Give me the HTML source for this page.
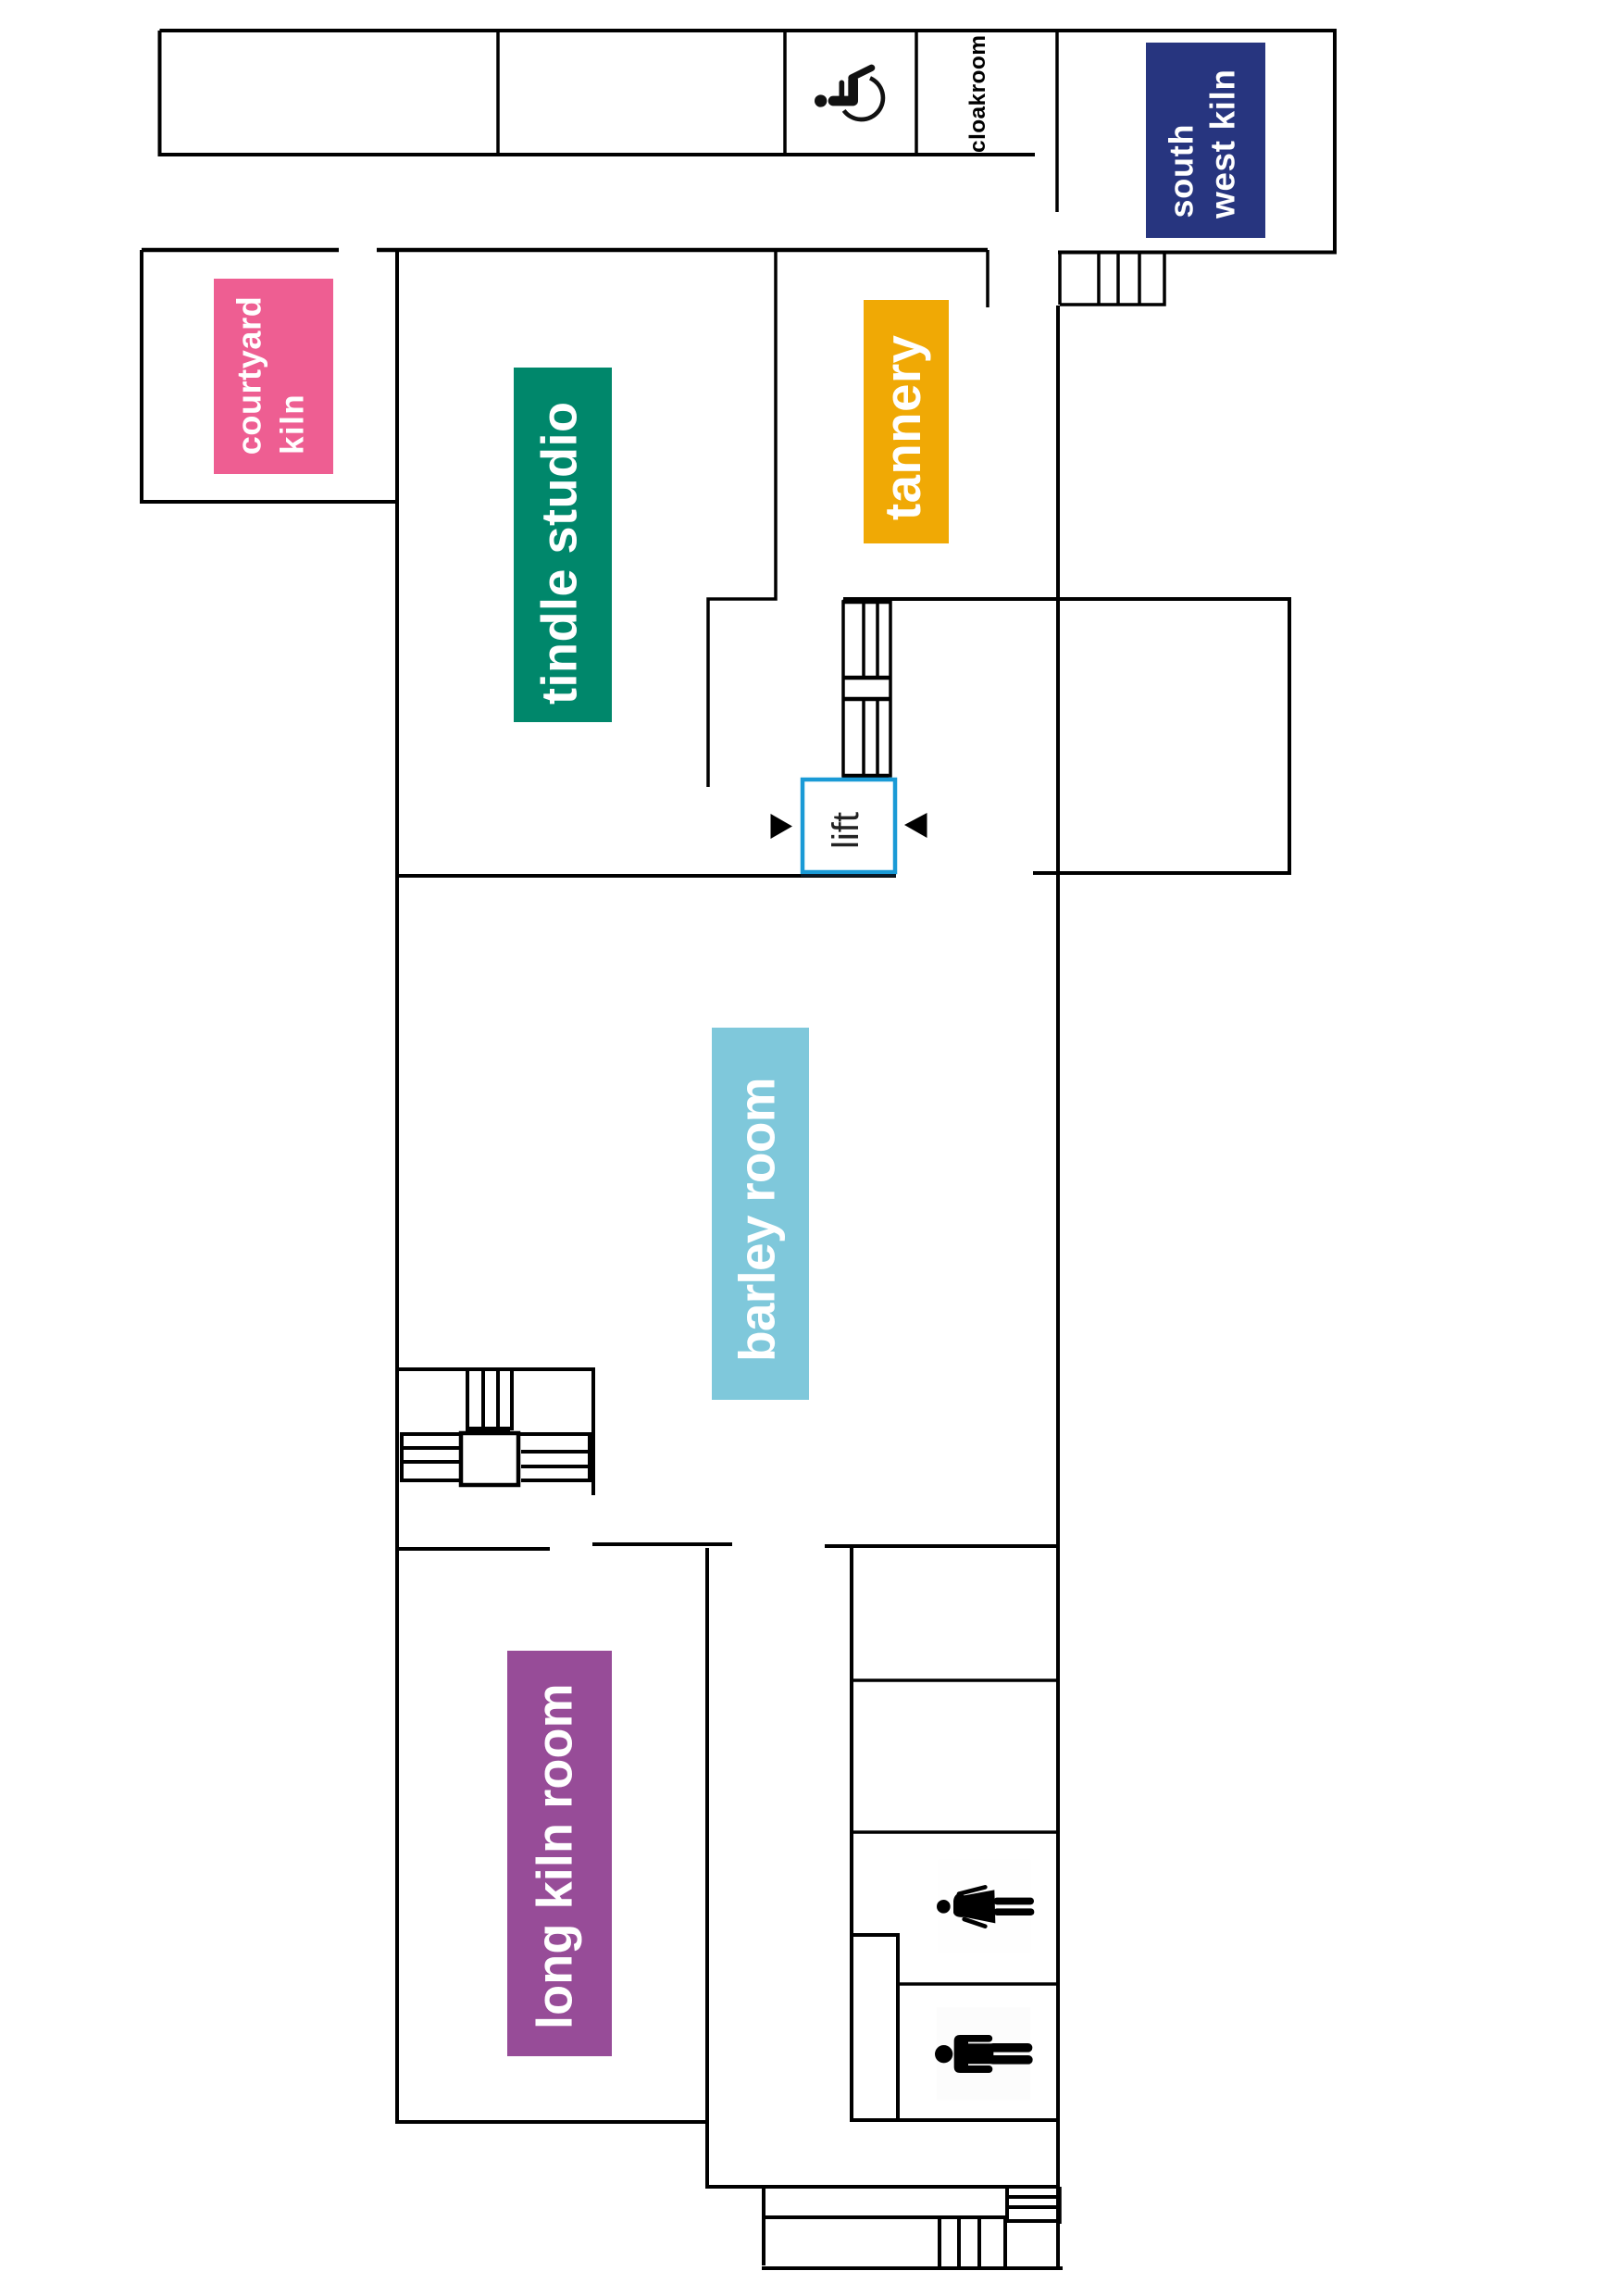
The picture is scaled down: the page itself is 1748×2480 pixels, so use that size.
<!DOCTYPE html>
<html>
<head>
<meta charset="utf-8">
<style>
html,body{margin:0;padding:0;background:#fff;}
svg{display:block;}
text{font-family:"Liberation Sans",sans-serif;}
.b{font-weight:bold;fill:#fff;}
</style>
</head>
<body>
<svg width="1748" height="2480" viewBox="0 0 1748 2480" xmlns="http://www.w3.org/2000/svg">
<rect width="1748" height="2480" fill="#fff"/>

<!-- label rectangles -->
<rect x="1238" y="46" width="129" height="211" fill="#27357f"/>
<rect x="231" y="301" width="129" height="211" fill="#ee5e92"/>
<rect x="555" y="397" width="106" height="383" fill="#00876b"/>
<rect x="933" y="324" width="92" height="263" fill="#f0a905"/>
<rect x="769" y="1110" width="105" height="402" fill="#7fc8db"/>
<rect x="548" y="1783" width="113" height="438" fill="#974c98"/>

<!-- walls -->
<g fill="none" stroke="#000" stroke-width="4" stroke-linecap="butt">
  <path d="M172.5 33H1442V272.5H1143"/>
  <path d="M172.5 33V167H1118"/>
  <path d="M538 33V167M848 33V167M990 33V167" stroke-width="3.5"/>
  <path d="M1142 33V229" stroke-width="3.5"/>
  <path d="M153 270H366M407 270H1067" stroke-width="4.5"/>
  <path d="M153 270V542H429" />
  <path d="M429 270V2292H764"/>
  <path d="M838 270V647H765V850" stroke-width="3.5"/>
  <path d="M1067 270V332" stroke-width="3.5"/>
  <path d="M1143 330V2450"/>
  <path d="M911 647H1393V943H1116"/>
  <path d="M428 946H968"/>
  <path d="M1145 329H1258V273M1145 273V329M1187 273V329M1208 273V329M1231 273V329" stroke-width="3.5"/>

  <!-- upper stair -->
  <path d="M911 650H962V838H911ZM933 650V732M948 650V732M933 755V838M948 755V838" stroke-width="3.5"/>
  <path d="M910 650H963M910 732H963M910 755H963M910 838H960" stroke-width="4.5"/>

  <!-- lower left stairs -->
  <path d="M428 1479H641V1615"/>
  <path d="M505 1480V1543H553V1480M522 1480V1543M538 1480V1543"/>
  <path d="M503 1545H551" stroke-width="5"/>
  <rect x="498" y="1548" width="62" height="56" stroke-width="4.5"/>
  <path d="M498 1549H434V1599H498M434 1564H497M434 1579H497"/>
  <path d="M562 1549H637V1599H563M563 1568H637M563 1584H637"/>
  <path d="M428 1673H594M640 1668H791M891 1670H1145"/>
  <path d="M764 1672V2362H1143"/>
  <path d="M920 1670V2290H1143"/>
  <path d="M920 1815H1143M920 1979H1143" stroke-width="3.5"/>
  <path d="M920 2090H970V2290"/>
  <path d="M970 2143H1143" stroke-width="3.5"/>

  <!-- bottom stairs -->
  <path d="M825 2362V2447"/>
  <path d="M825 2395H1086"/>
  <path d="M823 2450H1148"/>
  <path d="M1015 2395V2450M1036 2395V2450M1058 2395V2450M1086 2395V2450"/>
  <path d="M1088 2362V2399M1088 2373H1143M1088 2384H1143M1088 2399H1143"/>
  <path d="M1144.500 2362V2402" stroke-width="4.500"/>
</g>

<!-- lift -->
<rect x="867" y="842" width="100" height="100" fill="#fff" stroke="#1a9ad6" stroke-width="4.500"/>
<path d="M865 945.500H968" stroke="#0a1a28" stroke-width="3" fill="none"/>
<path d="M832.500 879L856 892.500L832.500 906Z" fill="#000"/>
<path d="M977 891L1001.500 878V905Z" fill="#000"/>
<text transform="translate(927,917) rotate(-90)" font-size="40" fill="#222" textLength="40">lift</text>

<!-- room labels -->
<text class="b" transform="translate(1288.300,235.500) rotate(-90)" font-size="36" textLength="101">south</text>
<text class="b" transform="translate(1333.300,236) rotate(-90)" font-size="37" textLength="161">west kiln</text>
<text class="b" transform="translate(281.700,491.300) rotate(-90)" font-size="36" textLength="171">courtyard</text>
<text class="b" transform="translate(327.300,491) rotate(-90)" font-size="35" textLength="64.700">kiln</text>
<text class="b" transform="translate(622.700,761) rotate(-90)" font-size="54" textLength="327">tindle studio</text>
<text class="b" transform="translate(994,562) rotate(-90)" font-size="54.500" textLength="200">tannery</text>
<text class="b" transform="translate(836.700,1471) rotate(-90)" font-size="55" textLength="307.600">barley room</text>
<text class="b" transform="translate(617.300,2192) rotate(-90)" font-size="54" textLength="373.600">long kiln room</text>
<text transform="translate(1064,165) rotate(-90)" font-size="24.500" font-weight="bold" fill="#000" textLength="127">cloakroom</text>

<!-- wheelchair -->
<g transform="translate(860,40) scale(0.33333)">
  <circle cx="80" cy="207" r="20" fill="#111"/>
  <path d="M120 207H185V140" fill="none" stroke="#111" stroke-width="32" stroke-linecap="round" stroke-linejoin="round"/>
  <path d="M180 132L245 100" fill="none" stroke="#111" stroke-width="22" stroke-linecap="round"/>
  <path d="M148 148V195" fill="none" stroke="#111" stroke-width="17" stroke-linecap="round"/>
  <path d="M155 238A70 70 0 1 0 240 133" fill="none" stroke="#111" stroke-width="14"/>
</g>

<!-- woman / man -->
<g transform="translate(740,2000) scale(0.33333)">
  <rect x="820" y="25" width="300" height="305" fill="#fefefe"/>
  <rect x="815" y="505" width="305" height="300" fill="#fcfcfc"/>

  <circle cx="838" cy="178" r="22" fill="#000"/>
  <path d="M870 160Q872 138 892 133L905 142L1003 124L1006 232L905 212Q875 215 870 198Z" fill="#000"/>
  <path d="M888 137L973 115" stroke="#000" stroke-width="14" stroke-linecap="round" fill="none"/>
  <path d="M905 219L973 242" stroke="#000" stroke-width="14" stroke-linecap="round" fill="none"/>
  <rect x="1000" y="149" width="131" height="23" rx="11" fill="#000"/>
  <rect x="1000" y="184" width="132" height="23" rx="11" fill="#000"/>

  <circle cx="839" cy="656" r="29" fill="#000"/>
  <path d="M892 594H985A11 11 0 0 1 985 617H918V693H985A12 12 0 0 1 985 717H892Q872 717 872 697V614Q872 594 892 594Z" fill="#000"/>
  <rect x="900" y="622" width="100" height="66" fill="#000"/>
  <rect x="985" y="621" width="141" height="29" rx="14" fill="#000"/>
  <rect x="985" y="660" width="142" height="29" rx="14" fill="#000"/>
</g>
</svg>
</body>
</html>
